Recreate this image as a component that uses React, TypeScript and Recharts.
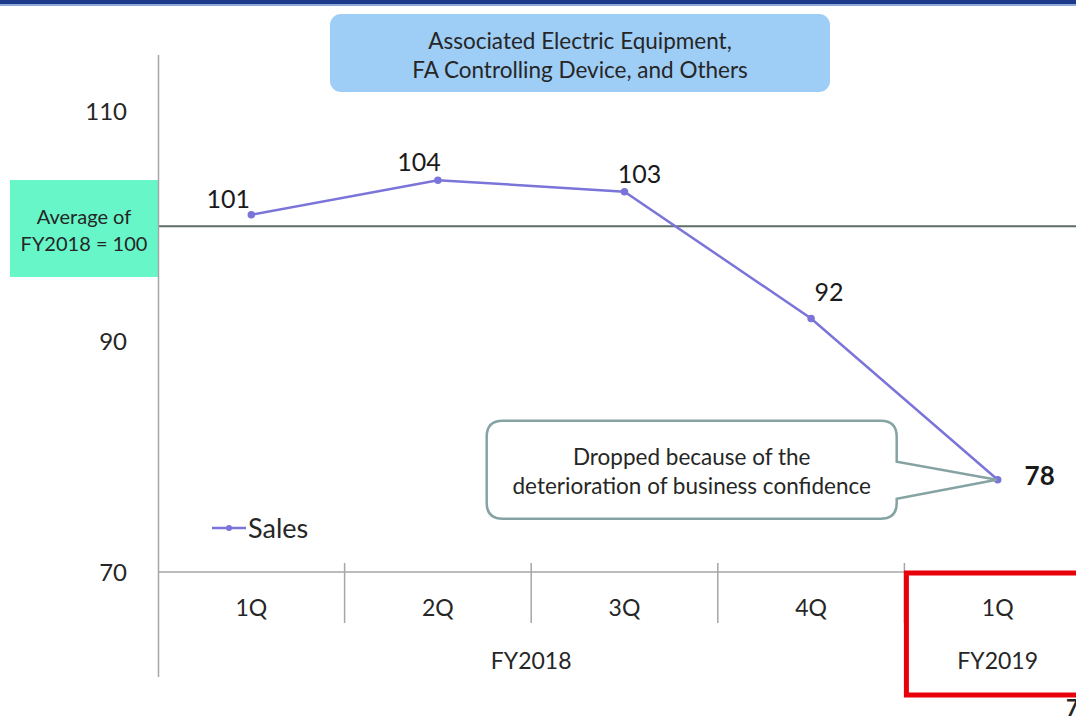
import { LineChart, Line, XAxis, YAxis, ReferenceLine, LabelList, Legend } from 'recharts'

// Quarterly sales index (average of FY2018 = 100)
const quarters = ['1Q', '2Q', '3Q', '4Q', '1Q']
const fiscalYears = ['FY2018', 'FY2018', 'FY2018', 'FY2018', 'FY2019']
const sales = [101, 104, 103, 92, 78]
const yTicks = [70, 90, 110]
const baseline = 100

// label nudges (dx, dy) per point, so the numbers sit like the slide
const labelOffsets = [[-23, -17], [-19, -19], [15, -19], [18, -27], [42, -5]]

const CHART_W = 1095
const CHART_H = 725
const Y_AXIS_W = 158
const MARGIN_RIGHT = 4
const STEP = (CHART_W - Y_AXIS_W - MARGIN_RIGHT) / sales.length

const FONT = 'Lato, "Open Sans", sans-serif'
const TEXT = '#262626'
const LINE = '#7b74d9'

const data = sales.map((v, i) => ({
    slot: `${fiscalYears[i]} ${quarters[i]}`,
    quarter: quarters[i],
    year: fiscalYears[i],
    sales: v,
}))

const QuarterTick = (props: any) => {
    const { x, y, payload } = props
    const i = payload.index
    const year = fiscalYears[i]
    const firstOfYear = i === 0 || fiscalYears[i - 1] !== year
    const count = fiscalYears.filter((f) => f === year).length
    return (
        <g>
            {i > 0 && (
                <line x1={x - STEP / 2} x2={x - STEP / 2} y1={y - 9} y2={y + 51} stroke="#a6a6a6" strokeWidth={1.5} />
            )}
            <text x={x} y={y + 35} textAnchor="middle" dominantBaseline="central" fontSize={23} fill={TEXT} fontFamily={FONT}>
                {quarters[i]}
            </text>
            {firstOfYear && (
                <text
                    x={x + ((count - 1) / 2) * STEP}
                    y={y + 88}
                    textAnchor="middle"
                    dominantBaseline="central"
                    fontSize={23}
                    fill={TEXT}
                    fontFamily={FONT}
                >
                    {year}
                </text>
            )}
            {i === sales.length - 1 && (
                <rect x={x - STEP / 2 + 2} y={y + 1} width={STEP} height={122} fill="none" stroke="#e8000b" strokeWidth={5} />
            )}
        </g>
    )
}

const renderLabel = (props: any) => {
    const { x, y, value, index } = props
    const [dx, dy] = labelOffsets[index]
    const last = index === sales.length - 1
    let callout = null
    if (last) {
        const left = x - 511
        const right = x - 101
        const top = y - 59
        const bottom = y + 39
        const r = 16
        const d = `M ${left + r} ${top} H ${right - r} Q ${right} ${top} ${right} ${top + r} V ${y - 18} L ${x - 1} ${y} L ${right} ${y + 19} V ${bottom - r} Q ${right} ${bottom} ${right - r} ${bottom} H ${left + r} Q ${left} ${bottom} ${left} ${bottom - r} V ${top + r} Q ${left} ${top} ${left + r} ${top} Z`
        const cx = (left + right) / 2
        callout = (
            <g>
                <path d={d} fill="#fff" stroke="#86a3a3" strokeWidth={2.5} />
                <text x={cx} y={y - 23} textAnchor="middle" dominantBaseline="central" fontSize={22.5} fill={TEXT} fontFamily={FONT}>
                    Dropped because of the
                </text>
                <text x={cx} y={y + 6} textAnchor="middle" dominantBaseline="central" fontSize={22.5} fill={TEXT} fontFamily={FONT}>
                    deterioration of business confidence
                </text>
            </g>
        )
    }
    return (
        <g>
            {callout}
            <text
                x={x + dx}
                y={y + dy}
                textAnchor="middle"
                dominantBaseline="central"
                fontSize={last ? 26 : 25}
                fontWeight={last ? 700 : 400}
                fill="#1a1a1a"
                fontFamily={FONT}
            >
                {value}
            </text>
        </g>
    )
}

const SalesLegend = () => (
    <div style={{ display: 'flex', alignItems: 'center', fontFamily: FONT, fontSize: 27, color: TEXT, lineHeight: '30px' }}>
        <svg width={34} height={10}>
            <line x1={0} x2={34} y1={5} y2={5} stroke={LINE} strokeWidth={2.5} />
            <circle cx={17} cy={5} r={3} fill={LINE} />
        </svg>
        <span style={{ marginLeft: 2 }}>Sales</span>
    </div>
)

export default function App() {
    return (
        <div style={{ position: 'absolute', left: 0, top: 0, width: 1076, height: 725, overflow: 'hidden', background: '#fff' }}>
            <LineChart width={CHART_W} height={CHART_H} data={data} margin={{ top: 111, right: MARGIN_RIGHT, bottom: 0, left: 0 }}>
                <XAxis
                    dataKey="slot"
                    height={153}
                    padding={{ left: STEP / 2, right: STEP / 2 }}
                    axisLine={{ stroke: '#a6a6a6', strokeWidth: 1.5 }}
                    tickLine={false}
                    tickSize={0}
                    tickMargin={0}
                    interval={0}
                    tick={<QuarterTick />}
                />
                <YAxis
                    width={Y_AXIS_W}
                    domain={[70, 110]}
                    ticks={yTicks}
                    axisLine={false}
                    tickLine={false}
                    tickSize={0}
                    tickMargin={31}
                    tick={{ fontSize: 24, fill: TEXT, fontFamily: FONT }}
                />
                <ReferenceLine y={baseline} stroke="#5e6d65" strokeWidth={2} />
                <Legend
                    layout="horizontal"
                    verticalAlign="middle"
                    align="center"
                    content={<SalesLegend />}
                    wrapperStyle={{ position: 'absolute', left: 212, top: 513, width: 'auto' }}
                />
                <Line
                    type="linear"
                    dataKey="sales"
                    name="Sales"
                    stroke={LINE}
                    strokeWidth={2.5}
                    dot={{ r: 2.5, fill: LINE, stroke: LINE }}
                    isAnimationActive={false}
                >
                    <LabelList dataKey="sales" content={renderLabel} />
                </Line>
            </LineChart>

            {/* slide decorations around the chart */}
            <svg width={1076} height={725} style={{ position: 'absolute', left: 0, top: 0, pointerEvents: 'none' }}>
                <rect x={0} y={0} width={1076} height={4} fill="#1d3a8a" />
                <rect x={0} y={4} width={1076} height={2} fill="#8fa9d8" />
                <rect x={330} y={14} width={500} height={78} rx={11} fill="#9ecdf6" />
                <text x={580} y={40} textAnchor="middle" dominantBaseline="central" fontSize={22.5} fill={TEXT} fontFamily={FONT}>
                    Associated Electric Equipment,
                </text>
                <text x={580} y={69} textAnchor="middle" dominantBaseline="central" fontSize={22.5} fill={TEXT} fontFamily={FONT}>
                    FA Controlling Device, and Others
                </text>
                <rect x={10} y={180} width={148} height={97} fill="#66f6c8" />
                <text x={84} y={216} textAnchor="middle" dominantBaseline="central" fontSize={20} fill={TEXT} fontFamily={FONT}>
                    Average of
                </text>
                <text x={84} y={243} textAnchor="middle" dominantBaseline="central" fontSize={20} fill={TEXT} fontFamily={FONT}>
                    FY2018 = 100
                </text>
                <line x1={158.5} x2={158.5} y1={55} y2={677} stroke="#a6a6a6" strokeWidth={1.5} />
                <text x={1066} y={716} fontSize={22} fontWeight={700} fill={TEXT} fontFamily={FONT}>
                    7
                </text>
            </svg>
        </div>
    )
}
